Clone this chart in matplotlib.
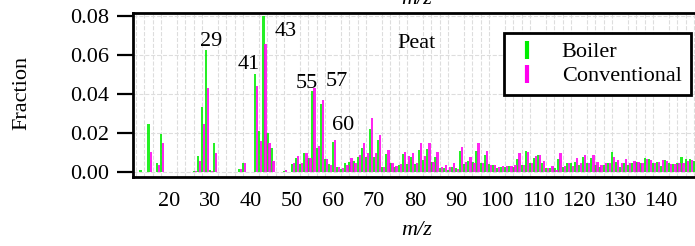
import matplotlib
matplotlib.use("Agg")
import matplotlib.pyplot as plt
import numpy as np
from matplotlib.lines import Line2D

plt.rcParams['font.family'] = ['Liberation Serif', 'DejaVu Serif']
plt.rcParams['font.size'] = 16

# m/z 12 .. 148
mz = np.arange(12, 149)

boiler = [0.0002, 0.0015, 0.0, 0.0250, 0.0005, 0.0048, 0.0197, 0.0, 0.0, 0.0,   # 12-21
          0.0, 0.0, 0.0, 0.0002, 0.0008, 0.0085, 0.0334, 0.0625, 0.0013, 0.0149,  # 22-31
          0.0, 0.0, 0.0, 0.0, 0.0, 0.0020, 0.0047, 0.0, 0.0, 0.0502,              # 32-41
          0.0213, 0.0800, 0.0200, 0.0123, 0.0, 0.0, 0.0008, 0.0003, 0.0042, 0.0072,  # 42-51
          0.0043, 0.0098, 0.0072, 0.0415, 0.0125, 0.0352, 0.0067, 0.0043, 0.0157, 0.0026,  # 52-61
          0.0020, 0.0047, 0.0055, 0.0060, 0.0078, 0.0126, 0.0080, 0.0224, 0.0081, 0.0166,  # 62-71
          0.0028, 0.0094, 0.0047, 0.0030, 0.0040, 0.0093, 0.0045, 0.0080, 0.0045, 0.0115,  # 72-81
          0.0065, 0.0119, 0.0053, 0.0081, 0.0025, 0.0022, 0.0014, 0.0030, 0.0022, 0.0110,  # 82-91
          0.0044, 0.0061, 0.0056, 0.0110, 0.0051, 0.0088, 0.0044, 0.0039, 0.0022, 0.0030,  # 92-101
          0.0030, 0.0034, 0.0030, 0.0068, 0.0036, 0.0110, 0.0047, 0.0073, 0.0088, 0.0047,  # 102-111
          0.0022, 0.0022, 0.0022, 0.0068, 0.0030, 0.0051, 0.0047, 0.0056, 0.0039, 0.0081,  # 112-121
          0.0051, 0.0073, 0.0036, 0.0030, 0.0039, 0.0047, 0.0105, 0.0056, 0.0030, 0.0047,  # 122-131
          0.0036, 0.0051, 0.0056, 0.0047, 0.0073, 0.0068, 0.0047, 0.0056, 0.0034, 0.0064,  # 132-141
          0.0047, 0.0042, 0.0047, 0.0081, 0.0068, 0.0071, 0.0060]                          # 142-148

conventional = [0.0002, 0.0005, 0.0, 0.0105, 0.0005, 0.0038, 0.0153, 0.0, 0.0, 0.0,
                0.0, 0.0, 0.0, 0.0002, 0.0008, 0.0061, 0.0248, 0.0430, 0.0008, 0.0102,
                0.0, 0.0, 0.0, 0.0, 0.0, 0.0020, 0.0050, 0.0, 0.0, 0.0441,
                0.0162, 0.0655, 0.0150, 0.0060, 0.0, 0.0, 0.0013, 0.0003, 0.0047, 0.0084,
                0.0047, 0.0098, 0.0072, 0.0430, 0.0135, 0.0370, 0.0067, 0.0037, 0.0166, 0.0030,
                0.0025, 0.0040, 0.0075, 0.0050, 0.0090, 0.0149, 0.0098, 0.0277, 0.0098, 0.0190,
                0.0028, 0.0115, 0.0047, 0.0035, 0.0045, 0.0106, 0.0085, 0.0098, 0.0048, 0.0153,
                0.0085, 0.0149, 0.0056, 0.0104, 0.0030, 0.0039, 0.0026, 0.0047, 0.0017, 0.0132,
                0.0056, 0.0081, 0.0051, 0.0153, 0.0051, 0.0112, 0.0039, 0.0039, 0.0026, 0.0034,
                0.0034, 0.0034, 0.0036, 0.0098, 0.0039, 0.0105, 0.0051, 0.0085, 0.0090, 0.0061,
                0.0022, 0.0034, 0.0014, 0.0102, 0.0034, 0.0047, 0.0034, 0.0073, 0.0047, 0.0090,
                0.0047, 0.0090, 0.0056, 0.0036, 0.0047, 0.0047, 0.0081, 0.0064, 0.0047, 0.0071,
                0.0047, 0.0058, 0.0056, 0.0047, 0.0068, 0.0064, 0.0047, 0.0056, 0.0064, 0.0061,
                0.0044, 0.0044, 0.0047, 0.0051, 0.0061, 0.0064, 0.0055]

peak_labels = [29, 41, 43, 55, 57, 60]

fig = plt.figure(figsize=(6.95, 2.46), dpi=100)
ax = fig.add_axes([133 / 695, 69 / 246, 567 / 695, 164 / 246])

ax.bar(mz, boiler, width=0.55, color='#00ee00', alpha=0.85, zorder=2,
       linewidth=0, antialiased=False)
ax.bar(mz + 0.5, conventional, width=0.55, color='#ff00ee', alpha=0.85, zorder=2,
       linewidth=0, antialiased=False)

ax.set_xlim(11.2, 149.5)
ax.set_ylim(-0.0023, 0.0814)
ax.set_xticks(np.arange(20, 150, 10))
ax.set_yticks([0.0, 0.02, 0.04, 0.06, 0.08])
ax.set_yticklabels(['0.00', '0.02', '0.04', '0.06', '0.08'])
ax.set_xticks(np.arange(12, 150, 2), minor=True)
ax.tick_params(axis='x', which='both', length=0, pad=11)
ax.tick_params(axis='y', length=11.5, width=1.6, pad=6)

ax.set_axisbelow(True)
ax.grid(axis='y', which='major', color='#dddddd', linestyle='--', linewidth=0.8)
ax.grid(axis='x', which='minor', color='#dddddd', linestyle='--', linewidth=0.8)

for s in ['left', 'top', 'bottom']:
    ax.spines[s].set_linewidth(2)
ax.spines['right'].set_visible(False)

ax.set_ylabel('Fraction')
ax.yaxis.set_label_coords(-0.18, 0.51)
ax.set_xlabel('m/z', style='italic')
ax.xaxis.set_label_coords(0.5, -0.27)

# peak annotations
label_pos = {29: (210.7, 41), 41: (249, 65), 43: (286, 32), 55: (307, 83), 57: (337, 82), 60: (343, 125)}
for p in peak_labels:
    px, py = label_pos[p]
    fig.text(px / 695, 1 - py / 246, str(p), ha='center', va='center')

fig.text(416 / 695, 1 - 43 / 246, 'Peat', ha='center', va='center')

# x label of the panel above, cut off by the crop
fig.text(417 / 695, 1 - 4 / 246, 'm/z', style='italic', ha='center', va='baseline')

handles = [Line2D([], [], marker='|', linestyle='none', color='#00ee00', markersize=13, mew=3),
           Line2D([], [], marker='|', linestyle='none', color='#ff00ee', markersize=13, mew=3)]
leg = ax.legend(handles, ['Boiler', 'Conventional'], loc='upper left',
                bbox_to_anchor=((504 - 133) / 567, (177 - 33) / 164), borderaxespad=0,
                fancybox=False, edgecolor='black', framealpha=1,
                borderpad=0.4, labelspacing=0.15, handletextpad=0.9, handlelength=1.3)
leg.get_frame().set_linewidth(2)

fig.savefig('out.png', dpi=100)
